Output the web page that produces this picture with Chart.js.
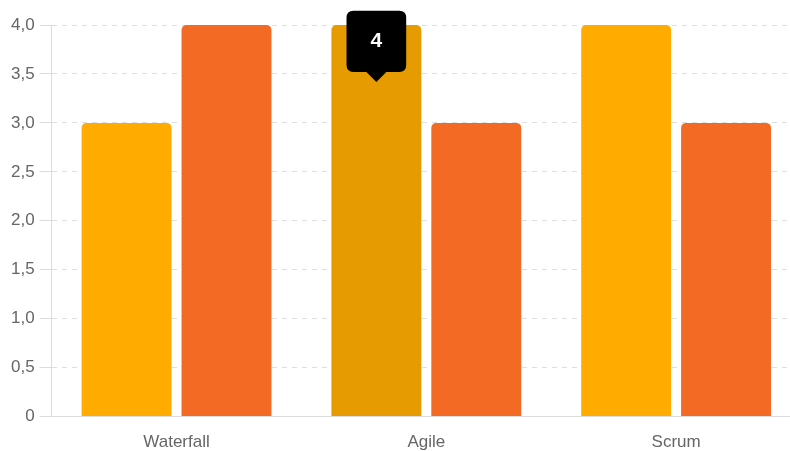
<!DOCTYPE html>
<html>
<head>
<meta charset="utf-8">
<script src="https://cdn.jsdelivr.net/npm/chart.js@4"></script>
<style>
  html, body { margin: 0; padding: 0; background: #fff; overflow: hidden; }
  #wrap { width: 801px; height: 451px; }
</style>
</head>
<body>
<div id="wrap"><canvas id="chart"></canvas></div>
<script>
const categories = ['Waterfall', 'Agile', 'Scrum'];
const seriesA = [3, 4, 4];
const seriesB = [4, 3, 3];

// tooltip sits lower than the top of the bar, caret pointing down into it
Chart.Tooltip.positioners.inBar = function (elements) {
    if (!elements.length) return false;
    const el = elements[0].element;
    return { x: el.x, y: el.y + 57 };
};

const data = {
    labels: categories,
    datasets: [{
        data: seriesA,
        backgroundColor: '#FFAB00',
        hoverBackgroundColor: '#E69C00',
        borderRadius: 5,
        borderSkipped: 'bottom'
    }, {
        data: seriesB,
        backgroundColor: '#F26A23',
        hoverBackgroundColor: '#D95A18',
        borderRadius: 5,
        borderSkipped: 'bottom'
    }]
};

const config = {
    type: 'bar',
    data,
    options: {
        responsive: true,
        maintainAspectRatio: false,
        animation: false,
        locale: 'de-DE',
        layout: {
            padding: { top: 25, left: 6, right: 0, bottom: -18 }
        },
        font: { family: "'Liberation Sans', Arial, sans-serif" },
        plugins: {
            legend: { display: false },
            tooltip: {
                position: 'inBar',
                yAlign: 'bottom',
                xAlign: 'center',
                backgroundColor: '#000',
                displayColors: false,
                caretSize: 10,
                caretPadding: 0,
                cornerRadius: 7,
                padding: { top: 18, bottom: 18, left: 24, right: 24 },
                bodyFont: { family: "'Liberation Sans', Arial, sans-serif", size: 21, weight: 'bold' },
                bodyAlign: 'center',
                callbacks: {
                    title: () => '',
                    label: (item) => String(item.raw)
                }
            }
        },
        scales: {
            x: {
                grid: { display: false, drawTicks: false },
                border: { display: true, color: '#dcdcdc' },
                ticks: {
                    color: '#666',
                    padding: 16,
                    font: { family: "'Liberation Sans', Arial, sans-serif", size: 17 }
                }
            },
            y: {
                min: 0,
                max: 4,
                ticks: {
                    stepSize: 0.5,
                    color: '#666',
                    padding: 5,
                    font: { family: "'Liberation Sans', Arial, sans-serif", size: 17 }
                },
                grid: {
                    color: '#dedede',
                    tickLength: 12,
                    tickColor: '#dcdcdc'
                },
                border: { display: true, color: '#dcdcdc', dash: [5, 5] }
            }
        }
    }
};

const myChart = new Chart(document.getElementById('chart'), config);

// hovered state: Agile, first series
const active = [{ datasetIndex: 0, index: 1 }];
myChart.setActiveElements(active);
myChart.tooltip.setActiveElements(active, { x: 0, y: 0 });
myChart.update();
</script>
</body>
</html>
